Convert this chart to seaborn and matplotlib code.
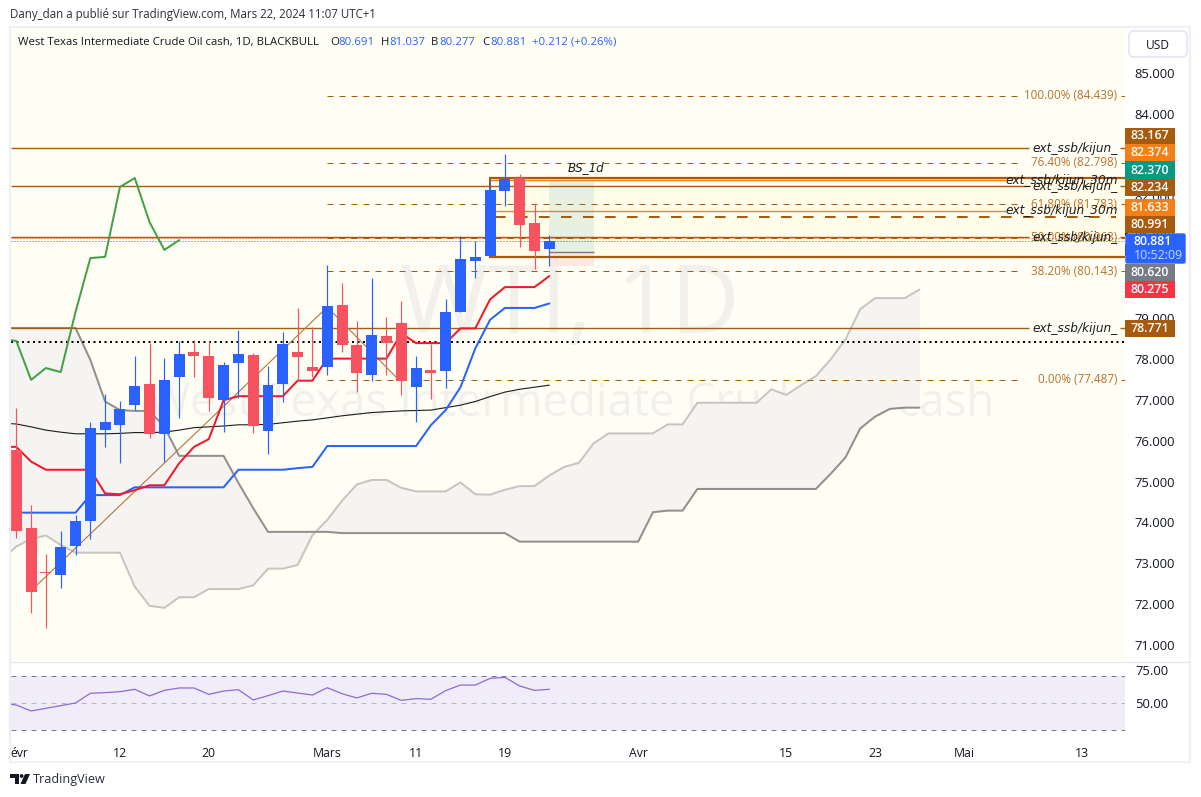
import matplotlib
matplotlib.use("Agg")
import matplotlib.pyplot as plt
from matplotlib.patches import Rectangle, Polygon, Circle, FancyBboxPatch
import numpy as np
import seaborn as sns

# daily candles
opens = [75.77, 73.86, 72.78, 72.72, 73.43, 74.04, 76.27, 76.39, 76.88, 77.39, 76.17, 77.57, 78.17, 78.07, 77.00, 77.91, 78.10, 76.25, 77.40,
         78.17, 77.80, 77.81, 79.32, 78.34, 77.62, 78.56, 78.88, 77.32, 77.73, 77.71, 79.15, 80.41, 80.53, 82.10, 82.43, 81.33, 80.691]
highs = [76.79, 74.42, 73.23, 73.79, 74.18, 76.46, 77.14, 76.97, 78.07, 78.39, 78.03, 78.44, 78.47, 78.44, 77.93, 78.71, 78.15, 77.83, 78.66,
         79.25, 78.78, 80.30, 79.86, 78.93, 79.98, 79.03, 79.42, 78.07, 78.37, 79.47, 81.01, 80.89, 82.38, 83.02, 82.53, 81.79, 81.037]
lows = [73.63, 71.79, 71.42, 72.40, 73.21, 73.60, 75.85, 75.46, 76.76, 76.07, 75.49, 76.56, 77.57, 76.73, 76.22, 77.05, 76.20, 75.68, 76.96,
        77.49, 77.56, 77.61, 78.17, 77.20, 77.47, 77.62, 77.13, 76.47, 77.03, 77.30, 79.14, 79.99, 80.52, 81.75, 80.75, 80.20, 80.277]
closes = [73.80, 72.31, 72.76, 73.40, 74.04, 76.31, 76.46, 76.78, 77.34, 76.17, 77.49, 78.12, 78.08, 77.05, 77.85, 78.12, 76.37, 77.36, 78.37,
          78.05, 77.71, 79.30, 78.35, 77.67, 78.59, 78.40, 77.47, 77.78, 77.67, 79.15, 80.45, 80.50, 82.14, 82.41, 81.29, 80.65, 80.881]

# ichimoku + sma, first value is the bar before the first candle
tenkan = [75.85, 75.85, 75.49, 75.29, 75.29, 75.29, 75.29, 74.71, 74.69, 74.79, 74.91, 74.91, 75.45, 75.85, 76.04, 76.99, 77.09, 77.09, 77.09,
          77.09, 77.47, 77.47, 78.01, 78.01, 78.01, 78.01, 78.01, 78.63, 78.39, 78.39, 78.39, 78.75, 78.75, 79.46, 79.76, 79.76, 79.76, 80.03]
kijun = [74.24, 74.24, 74.24, 74.24, 74.24, 74.24, 74.67, 74.67, 74.67, 74.86, 74.86, 74.86, 74.86, 74.86, 74.86, 74.86, 75.29, 75.29, 75.29,
         75.29, 75.33, 75.36, 75.87, 75.87, 75.87, 75.87, 75.87, 75.87, 75.87, 76.38, 76.75, 77.31, 78.26, 78.96, 79.25, 79.25, 79.25, 79.36]
sma = [76.43, 76.41, 76.34, 76.26, 76.21, 76.17, 76.17, 76.17, 76.18, 76.20, 76.20, 76.21, 76.26, 76.32, 76.34, 76.36, 76.39, 76.39, 76.40,
       76.44, 76.48, 76.51, 76.56, 76.61, 76.65, 76.69, 76.71, 76.73, 76.74, 76.75, 76.81, 76.87, 76.96, 77.08, 77.19, 77.26, 77.31, 77.36]
chikou = [78.50, 78.44, 77.49, 77.78, 77.68, 79.15, 80.47, 80.50, 82.21, 82.43, 81.35, 80.67, 80.91]
span_a = [73.08, 73.41, 73.60, 73.68, 73.45, 73.26, 73.26, 73.26, 73.26, 72.43, 71.96, 71.91, 72.17, 72.17, 72.37, 72.37, 72.37, 72.46, 72.87,
          72.87, 72.96, 73.69, 74.06, 74.53, 74.93, 75.04, 75.04, 74.85, 74.76, 74.76, 74.76, 74.98, 74.69, 74.68, 74.80, 74.89, 74.89, 75.15,
          75.36, 75.46, 75.94, 76.18, 76.18, 76.18, 76.18, 76.40, 76.40, 76.93, 76.93, 76.93, 76.93, 76.93, 77.26, 77.12, 77.36, 77.58, 77.99,
          78.48, 79.22, 79.49, 79.49, 79.49, 79.70]
span_b = [78.76, 78.76, 78.76, 78.76, 78.76, 78.76, 77.98, 76.96, 76.75, 76.73, 76.73, 76.34, 75.63, 75.63, 75.63, 75.63, 74.97, 74.35, 73.77,
          73.77, 73.77, 73.77, 73.77, 73.74, 73.74, 73.74, 73.74, 73.74, 73.74, 73.74, 73.74, 73.74, 73.74, 73.74, 73.74, 73.53, 73.53, 73.53,
          73.53, 73.53, 73.53, 73.53, 73.53, 73.53, 74.25, 74.29, 74.29, 74.82, 74.82, 74.82, 74.82, 74.82, 74.82, 74.82, 74.82, 74.82, 75.19,
          75.59, 76.30, 76.59, 76.78, 76.81, 76.81]
rsi = [49.8, 48.5, 44.0, 46.0, 48.0, 50.0, 57.3, 57.8, 58.5, 60.3, 55.3, 59.5, 61.3, 61.3, 56.5, 59.0, 60.0, 52.3, 55.5,
       59.0, 57.5, 56.0, 61.5, 57.0, 53.8, 57.3, 56.5, 52.0, 53.3, 52.8, 59.3, 63.5, 63.5, 68.5, 69.3, 62.8, 59.5, 60.3]

fib_levels = [84.439, 82.798, 81.783, 80.963, 80.143, 77.487]
fib_pcts = ["100.00%", "76.40%", "61.80%", "50.00%", "38.20%", "0.00%"]
trend_x = [1.4, 21, 25.7]
trend_y = [72.47, 79.27, 77.54]
ssb_levels = [83.167, 82.234, 80.991, 78.771]
ssb30_levels = [82.374, 81.633]
dotted_level = 78.42
dash_level = 81.47
box_levels = [82.42, 80.50]
bs_top, bs_entry, bs_stop = 82.36, 80.62, 80.275

price_ticks = [85, 84, 83, 82, 81, 80, 79, 78, 77, 76, 75, 74, 73, 72, 71]
time_ticks = [0.17, 7, 13, 21, 27, 33, 42, 52, 58, 64, 72]
time_labels = ["évr", "12", "20", "Mars", "11", "19", "Avr", "15", "23", "Mai", "13"]

# right scale tags: text, colour, top and bottom pixel
tags = [("83.167", "#a85a0e", 127.5, 144), ("82.374", "#f57f17", 144, 161.3), ("82.370", "#089981", 161.3, 178.7),
        ("82.234", "#a85a0e", 178.7, 196), ("81.633", "#f57f17", 199.3, 216), ("80.991", "#a85a0e", 216, 232.7),
        ("80.620", "#787b86", 264, 281.3), ("80.275", "#f23645", 281.3, 298), ("78.771", "#a85a0e", 320, 336.7)]

W, H = 1201, 797
BROWN = "#a85a0e"
ORANGE = "#f57f17"
FIBTXT = "#b9722f"
INK = "#131722"
BAR_STEP = 14.806
BAR_ZERO = 16.3


def pane(l, t, r, b):
    return [l / W, 1 - b / H, (r - l) / W, (b - t) / H]


def bar_at(px):
    return (px - BAR_ZERO) / BAR_STEP


def draw_line(ax, xs, ys, color, lw, z=3):
    sns.lineplot(x=xs, y=ys, ax=ax, color=color, linewidth=lw, errorbar=None, legend=False, zorder=z)


sns.set_theme(style="white")
plt.rcParams["font.family"] = ["Open Sans", "DejaVu Sans"]

fig = plt.figure(figsize=(W / 100, H / 100), dpi=100, facecolor="white")
ax = fig.add_axes(pane(11, 28, 1125, 661), facecolor="#fffef5")
ax_rsi = fig.add_axes(pane(11, 662, 1125, 737), facecolor="white")

# watermark
ax.text(400 / W, 1 - 333 / H, "WTI, 1D", transform=fig.transFigure, fontsize=68.5, color="#f1f0eb", zorder=0.5, va="baseline")
ax.text(148 / W, 1 - 416 / H, "West Texas Intermediate Crude Oil cash", transform=fig.transFigure, fontsize=32.9, color="#f1f0eb", zorder=0.5, va="baseline")

# cloud
cloud_x = np.arange(-1, 62)
ax.fill_between(cloud_x, span_a, span_b, color="#f5f4f1", lw=0, zorder=1)
draw_line(ax, cloud_x, span_a, "#c6c5c1", 1.44, z=1.5)
draw_line(ax, cloud_x, span_b, "#908f8b", 1.44, z=1.5)

# position box + shaded zone
ax.axhspan(box_levels[1], box_levels[0], xmin=(490 - 11) / 1114, xmax=1, color="#fffdea", lw=0, zorder=0.8)
ax.fill_between([36, 39], bs_entry, bs_top, color="#e6f1e2", lw=0, zorder=1.1)
ax.fill_between([36, 39], bs_stop, bs_entry, color="#fde8e2", lw=0, zorder=1.1)
ax.hlines(bs_entry, 36, 39, color="#787b86", lw=1, zorder=1.2)
ax.hlines(box_levels, bar_at(489), bar_at(1125), color=BROWN, lw=1.6, zorder=2)
ax.vlines(bar_at(490), box_levels[1], box_levels[0], color=BROWN, lw=1.44, zorder=2)

# levels, broken where their label sits
ax.hlines(ssb_levels, bar_at(11), bar_at(1029), color=BROWN, lw=1.0, zorder=2)
ax.hlines(ssb_levels, bar_at(1120), bar_at(1125), color=BROWN, lw=1.0, zorder=2)
ax.hlines(ssb30_levels, bar_at(490), bar_at(1006), color=ORANGE, lw=1.0, zorder=2)
ax.hlines(dash_level, bar_at(495), bar_at(1116), color=BROWN, lw=1.44, linestyles=[(0, (5.3, 5.7))], zorder=2)
ax.hlines(dotted_level, bar_at(11), bar_at(1125), color="black", lw=1.44, linestyles=[(0, (1, 1.75))], zorder=2)
ax.hlines(80.95, bar_at(11), bar_at(1125), color="#f23645", lw=0.72, linestyles=[(0, (1, 2))], zorder=2)
ax.hlines(closes[-1], bar_at(11), bar_at(1125), color="#2962ff", lw=0.72, linestyles=[(0, (1, 2))], zorder=2)
ax.hlines(fib_levels, 21, bar_at(1021), color=BROWN, lw=0.72, linestyles=[(0, (6, 6))], zorder=2)
ax.hlines(fib_levels, bar_at(1121), bar_at(1125), color=BROWN, lw=0.72, zorder=2)
draw_line(ax, trend_x, trend_y, "#b5763a", 0.8, z=2)

# indicators
ind_x = np.arange(-1, 37)
draw_line(ax, ind_x, sma, "#1c1c1c", 0.8)
draw_line(ax, ind_x, kijun, "#2962ff", 1.44)
draw_line(ax, ind_x, tenkan, "#f0182c", 1.44)
draw_line(ax, np.arange(-1, 12), chikou, "#43a047", 1.44)

# candles
bars = np.arange(len(opens))
colors = ["#2962ff" if c >= o else "#f7525f" for o, c in zip(opens, closes)]
ax.vlines(bars, lows, highs, colors=colors, lw=0.85, zorder=4)
ax.bar(bars, np.abs(np.array(closes) - np.array(opens)), bottom=np.minimum(opens, closes), width=0.74, color=colors, lw=0, zorder=4)

xlim = (bar_at(11), bar_at(1125))
ax.set_xlim(xlim)
ax.set_ylim(85 - (661 - 73) / 40.86, 85 + (73 - 28) / 40.86)
ax.set_xticks([])
ax.set_yticks(price_ticks, [f"{p:.3f}" for p in price_ticks])
ax.tick_params(axis="y", length=0, left=False, labelleft=False, right=False, labelright=True, pad=6.5, labelsize=9.4, labelcolor=INK)
ax.set_xlabel("")
ax.set_ylabel("")
sns.despine(ax=ax, left=True, bottom=True, top=True, right=True)

# rsi pane
ax_rsi.axhspan(30, 70, color="#f0ecf9", lw=0, zorder=0.5)
ax_rsi.hlines([70, 30], *xlim, color="#787b86", lw=0.72, linestyles=[(0, (5, 5))], zorder=1)
ax_rsi.hlines(50, *xlim, color="#b5b5bd", lw=0.72, linestyles=[(0, (5, 5))], zorder=1)
draw_line(ax_rsi, ind_x, rsi, "#8f6bd1", 0.9)
ax_rsi.set_xlim(xlim)
ax_rsi.set_ylim(50 - (737 - 703) / 1.33, 50 + (703 - 662) / 1.33)
ax_rsi.set_xticks(time_ticks, time_labels)
ax_rsi.set_yticks([75, 50], ["75.00", "50.00"])
ax_rsi.tick_params(axis="x", length=0, pad=7, labelsize=8.8, labelcolor=INK)
ax_rsi.tick_params(axis="y", length=0, left=False, labelleft=False, right=False, labelright=True, pad=7.5, labelsize=9.4, labelcolor=INK)
ax_rsi.set_xlabel("")
ax_rsi.set_ylabel("")
sns.despine(ax=ax_rsi, left=True, bottom=True, top=True, right=True)

# everything drawn on top in pixel space: frame, header, scale tags
ov = fig.add_axes([0, 0, 1, 1], zorder=10)
ov.set_xlim(0, W)
ov.set_ylim(H, 0)
ov.axis("off")
ov.patch.set_visible(False)

ov.add_patch(Rectangle((10, 26.5), 1180, 735.5, fill=False, ec="#eef0f5", lw=1.6))
ov.plot([11, 1190], [661.5, 661.5], color="#e6e6ef", lw=1)

ov.text(9.5, 14, "Dany_dan a publié sur TradingView.com, Mars 22, 2024 11:07 UTC+1", fontsize=8.3, color="#2a2e39", va="center")
ov.text(18, 42, "West Texas Intermediate Crude Oil cash, 1D, BLACKBULL", fontsize=8.2, color=INK, va="center")
for x, key, val in [(330, "O", "80.691"), (381, "H", "81.037"), (431, "B", "80.277"), (482, "C", "80.881")]:
    ov.text(x, 42, key, fontsize=8.2, color=INK, va="center")
    ov.text(x + 8, 42, val, fontsize=8.2, color="#2962ff", va="center")
ov.text(532, 42, "+0.212 (+0.26%)", fontsize=8.2, color="#2962ff", va="center")

ov.add_patch(FancyBboxPatch((1131, 33), 54, 22, boxstyle="round,pad=2,rounding_size=5", fc="white", ec="#e4e6ef", lw=1.2))
ov.text(1158, 45, "USD", fontsize=8.6, color=INK, ha="center", va="center")

# fib and ssb labels
for lvl, pct in zip(fib_levels, fib_pcts):
    y = 73 + (85 - lvl) * 40.86
    ov.text(1117, y, f"{pct} ({lvl:.3f})", fontsize=8.4, color=FIBTXT, ha="right", va="center")
for y in [148, 186, 237.5, 328]:
    ov.text(1118, y, "ext_ssb/kijun_", fontsize=8.7, style="italic", family="DejaVu Sans", color="#1c1c1c", ha="right", va="center")
for y in [180, 210]:
    ov.text(1118, y, "ext_ssb/kijun_30m", fontsize=8.7, style="italic", family="DejaVu Sans", color="#1c1c1c", ha="right", va="center")
ov.text(586, 168, "BS_1d", fontsize=8.6, style="italic", family="DejaVu Sans", color="#1c1c1c", ha="center", va="center")

# scale tags
ov.add_patch(Polygon([(1125, 226), (1131, 231), (1125, 236)], color="#131722", lw=0))
ov.add_patch(Polygon([(1125, 244), (1131, 250), (1125, 256)], color="#131722", lw=0))
for txt, col, top, bot in tags:
    ov.add_patch(Rectangle((1125, top), 50, bot - top, color=col, lw=0))
    ov.text(1150, (top + bot) / 2, txt, fontsize=8.9, color="white", weight="semibold", ha="center", va="center")
ov.add_patch(FancyBboxPatch((1126, 234), 59, 29, boxstyle="round,pad=0,rounding_size=1.5", fc="#2962ff", ec="#2962ff", lw=1))
ov.text(1134, 241.5, "80.881", fontsize=8.9, color="white", weight="semibold", va="center")
ov.text(1134, 255.5, "10:52:09", fontsize=8.9, color="#c9d7ff", va="center")

# logo
ov.add_patch(Polygon([(10, 774), (19, 774), (19, 784), (14.5, 784), (14.5, 778), (10, 778)], color="#131722", lw=0))
ov.add_patch(Circle((21.6, 776), 1.9, color="#131722", lw=0))
ov.add_patch(Polygon([(25, 774), (30, 774), (25.5, 784), (20.5, 784)], color="#131722", lw=0))
ov.text(33, 779, "TradingView", fontsize=9.1, color="#2a2e39", va="center")

fig.savefig("out.png", dpi=100)
